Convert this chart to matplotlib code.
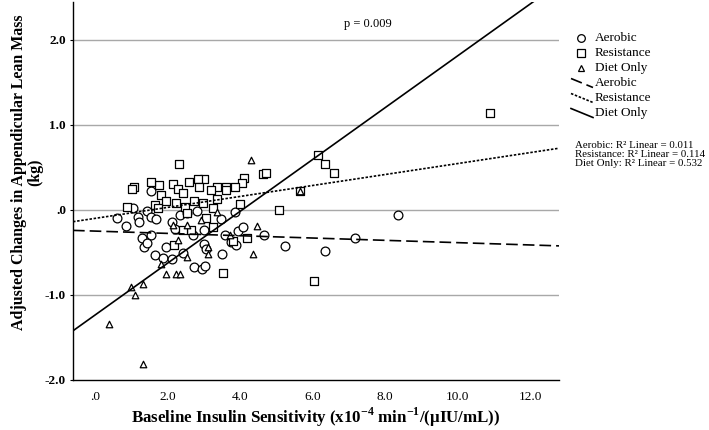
import numpy as np
import matplotlib
matplotlib.use("Agg")
import matplotlib.pyplot as plt
from matplotlib.lines import Line2D
from matplotlib.ticker import FuncFormatter

plt.rcParams['font.family'] = ['Liberation Serif', 'DejaVu Serif']
plt.rcParams['mathtext.fontset'] = 'custom'
plt.rcParams['mathtext.rm'] = 'Liberation Serif'
plt.rcParams['mathtext.bf'] = 'Liberation Serif:bold'

# scatter data
aerobic_x = [1.56, 1.06, 0.60, 0.87, 1.18, 1.21, 1.43, 1.54, 1.68, 1.29, 1.54, 1.36, 1.44,
             1.66, 1.88, 1.96, 2.12, 2.42, 2.14, 2.21, 2.34, 2.53, 2.82, 2.71, 3.02, 3.02,
             2.74, 2.97, 3.03, 3.49, 3.51, 3.59, 3.75, 3.89, 3.86, 3.95, 4.09, 4.67, 5.25,
             6.36, 7.18, 8.36, 3.08]
aerobic_y = [0.22, 0.02, -0.10, -0.19, -0.08, -0.14, -0.01, -0.08, -0.11, -0.33, -0.30, -0.44, -0.39,
             -0.53, -0.56, -0.44, -0.58, -0.51, -0.14, -0.22, -0.06, -0.03, -0.01, -0.29, -0.23, -0.40,
             -0.67, -0.69, -0.66, -0.11, -0.52, -0.29, -0.38, -0.41, -0.02, -0.25, -0.20, -0.29, -0.42,
             -0.48, -0.33, -0.06, -0.46]

resistance_x = [2.33, 6.16, 6.34, 6.60, 4.64, 4.71, 4.12, 4.06, 3.88, 3.61, 3.61, 3.37, 3.20,
                3.02, 2.85, 2.88, 2.60, 2.16, 2.30, 2.42, 1.77, 1.54, 1.84, 1.96, 1.08, 1.04,
                0.89, 1.66, 1.75, 2.23, 2.48, 2.55, 2.74, 2.99, 3.36, 3.26, 3.06, 4.00, 5.08,
                5.66, 2.64, 2.42, 3.25, 2.18, 3.82, 4.21, 3.54, 6.04, 10.90]
resistance_y = [0.54, 0.65, 0.54, 0.44, 0.42, 0.44, 0.38, 0.32, 0.27, 0.27, 0.23, 0.27, 0.24,
                0.37, 0.36, 0.27, 0.33, 0.30, 0.25, 0.20, 0.29, 0.33, 0.18, 0.11, 0.27, 0.25,
                0.04, 0.06, 0.02, 0.08, 0.03, -0.03, 0.10, 0.08, 0.13, 0.02, -0.10, 0.07, 0.00,
                0.22, -0.24, -0.24, -0.20, -0.41, -0.37, -0.33, -0.74, -0.83, 1.14]

diet_x = [4.30, 5.66, 2.16, 2.55, 2.94, 3.37, 2.30, 3.13, 3.13, 2.55, 4.46, 4.37, 3.72,
          1.84, 1.96, 2.23, 2.36, 1.32, 1.01, 1.12, 0.39, 1.33]
diet_y = [0.59, 0.22, -0.18, -0.18, -0.12, -0.02, -0.35, -0.43, -0.52, -0.55, -0.19, -0.52, -0.29,
          -0.64, -0.75, -0.75, -0.75, -0.87, -0.91, -1.00, -1.34, -1.81]

# fit lines (intercept, slope)
fit_names = ['Aerobic', 'Resistance', 'Diet Only']
fit_intercepts = [-0.248, -0.099, -1.238]
fit_slopes = [-0.0136, 0.0645, 0.305]
fit_r2 = ['0.011', '0.114', '0.532']

x_ticks = [0, 2, 4, 6, 8, 10, 12]
y_ticks = [-2, -1, 0, 1, 2]
x_lim = (-0.6, 12.8)
y_lim = (-2.0, 2.447)


def spss_fmt(v, pos=None):
    s = f"{v:.1f}"
    if s.startswith("0."):
        s = s[1:]
    return s


fig = plt.figure(figsize=(7.09, 4.30), dpi=100)
ax = fig.add_axes([73 / 709, 50 / 430, (559 - 73) / 709, 378 / 430])

for yv in y_ticks[1:]:
    ax.axhline(yv, color='#a8a8a8', lw=1.0, zorder=0)

mk = dict(facecolors='white', edgecolors='black', linewidths=0.9, zorder=3)
ax.scatter(aerobic_x, aerobic_y, marker='o', s=40, **mk)
ax.scatter(resistance_x, resistance_y, marker='s', s=40, **mk)
ax.scatter(diet_x, diet_y, marker='^', s=22, **mk)

styles = [(0, (7, 3)), (0, (1.5, 1)), '-']
xs = np.array(x_lim)
for b0, b1, ls in zip(fit_intercepts, fit_slopes, styles):
    ax.plot(xs, b0 + b1 * xs, color='black', lw=1.2, ls=ls, zorder=4)

ax.text(7.53, 2.19, 'p = 0.009', ha='center', va='center', fontsize=9)

ax.set_xlim(*x_lim)
ax.set_ylim(*y_lim)
ax.set_xticks(x_ticks)
ax.set_yticks(y_ticks)
ax.xaxis.set_major_formatter(FuncFormatter(spss_fmt))
ax.yaxis.set_major_formatter(FuncFormatter(spss_fmt))
ax.tick_params(axis='x', length=0, labelsize=9.5, pad=8)
ax.tick_params(axis='y', length=2, labelsize=9.5, pad=3)
for t in ax.get_yticklabels():
    t.set_fontweight('bold')
for sp in ['top', 'right']:
    ax.spines[sp].set_visible(False)
ax.spines['left'].set_linewidth(1.0)
ax.spines['bottom'].set_linewidth(1.0)

ax.set_xlabel(r'Baseline Insulin Sensitivity (x10$^{\mathbf{-4}}$ min$^{\mathbf{-1}}$/(μIU/mL))',
              fontsize=12.2, fontweight='bold', labelpad=2)
ax.set_ylabel('Adjusted Changes in Appendicular Lean Mass\n(kg)', fontsize=11.4,
              fontweight='bold', labelpad=1, linespacing=1.05, y=0.55)


# legend drawn in pixel coordinates of the figure
def fx(px):
    return px / 709


def fy(py):
    return 1 - py / 430


marker_rows = [('o', 'Aerobic', 37.7, 5.5), ('s', 'Resistance', 52.7, 5.5), ('^', 'Diet Only', 67.7, 4.5)]
for m, lab, py, ms in marker_rows:
    fig.add_artist(Line2D([fx(581)], [fy(py)], marker=m, ms=ms, mfc='white', mec='black',
                          mew=0.9, ls='none'))
    fig.text(fx(595), fy(py), lab, fontsize=9.5, va='center', ha='left')

line_rows = [(fit_names[0], 83, styles[0]), (fit_names[1], 98, styles[1]), (fit_names[2], 113, styles[2])]
for lab, py, ls in line_rows:
    fig.add_artist(Line2D([fx(571), fx(593)], [fy(py - 4.5), fy(py + 4.5)], color='black',
                          lw=1.2, ls=ls))
    fig.text(fx(595), fy(py), lab, fontsize=9.5, va='center', ha='left')

for i, (nm, r2) in enumerate(zip(fit_names, fit_r2)):
    fig.text(fx(575), fy(145.7 + 8.8 * i), f'{nm}: R² Linear = {r2}', fontsize=7.8,
             va='center', ha='left')

fig.savefig('out.png', dpi=100)
